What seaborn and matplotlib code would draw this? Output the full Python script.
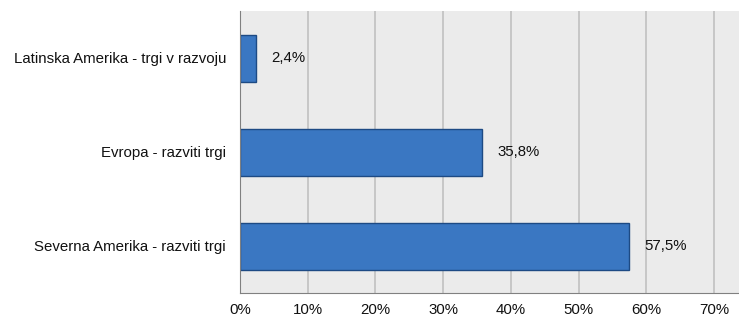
import pandas as pd
import numpy as np
import matplotlib
matplotlib.use('Agg')
import matplotlib.pyplot as plt
import seaborn as sns
from matplotlib.ticker import FixedLocator, PercentFormatter

regions = ['Latinska Amerika - trgi v razvoju', 'Evropa - razviti trgi', 'Severna Amerika - razviti trgi']
shares = [2.4, 35.8, 57.5]
labels = ['2,4%', '35,8%', '57,5%']

df = pd.DataFrame({'region': regions, 'share': shares})

sns.set_style('white')
plt.rcParams['font.family'] = ['Liberation Sans', 'DejaVu Sans']
fs = 10.8

fig = plt.figure(figsize=(7.39, 3.18), dpi=100)
ax = fig.add_axes([240 / 739, 25 / 318, 499 / 739, 282 / 318])
ax.set_facecolor('#ebebeb')

sns.barplot(data=df, x='share', y='region', orient='h', color='#3a77c2',
            edgecolor='#1d4a84', linewidth=1.0, width=0.5, saturation=1, ax=ax)

for patch, lab in zip(ax.patches, labels):
    ax.annotate(lab, (patch.get_width(), patch.get_y() + patch.get_height() / 2),
                xytext=(11, 0), textcoords='offset points', va='center', ha='left',
                fontsize=fs, color='#111111')

ax.set_xlim(0, 73.7)
ax.set_xticks(np.arange(0, 71, 10))
ax.xaxis.set_major_formatter(PercentFormatter(decimals=0))
ax.set_ylim(2.5, -0.5)
ax.yaxis.set_minor_locator(FixedLocator([-0.5, 0.5, 1.5, 2.5]))
ax.tick_params(axis='y', which='major', length=0, pad=10, labelsize=fs, labelcolor='#111111')
ax.tick_params(axis='y', which='minor', length=4, color='#808080', direction='out')
ax.tick_params(axis='x', length=4, color='#808080', direction='out', labelsize=fs,
               labelcolor='#111111', pad=3)
ax.grid(axis='x', color='#c0c0c0', linewidth=1.2)
ax.set_axisbelow(True)
ax.set_xlabel('')
ax.set_ylabel('')

for side in ['top', 'right']:
    ax.spines[side].set_visible(False)
ax.spines['left'].set_color('#808080')
ax.spines['bottom'].set_color('#808080')

fig.savefig('out.png', dpi=100)
